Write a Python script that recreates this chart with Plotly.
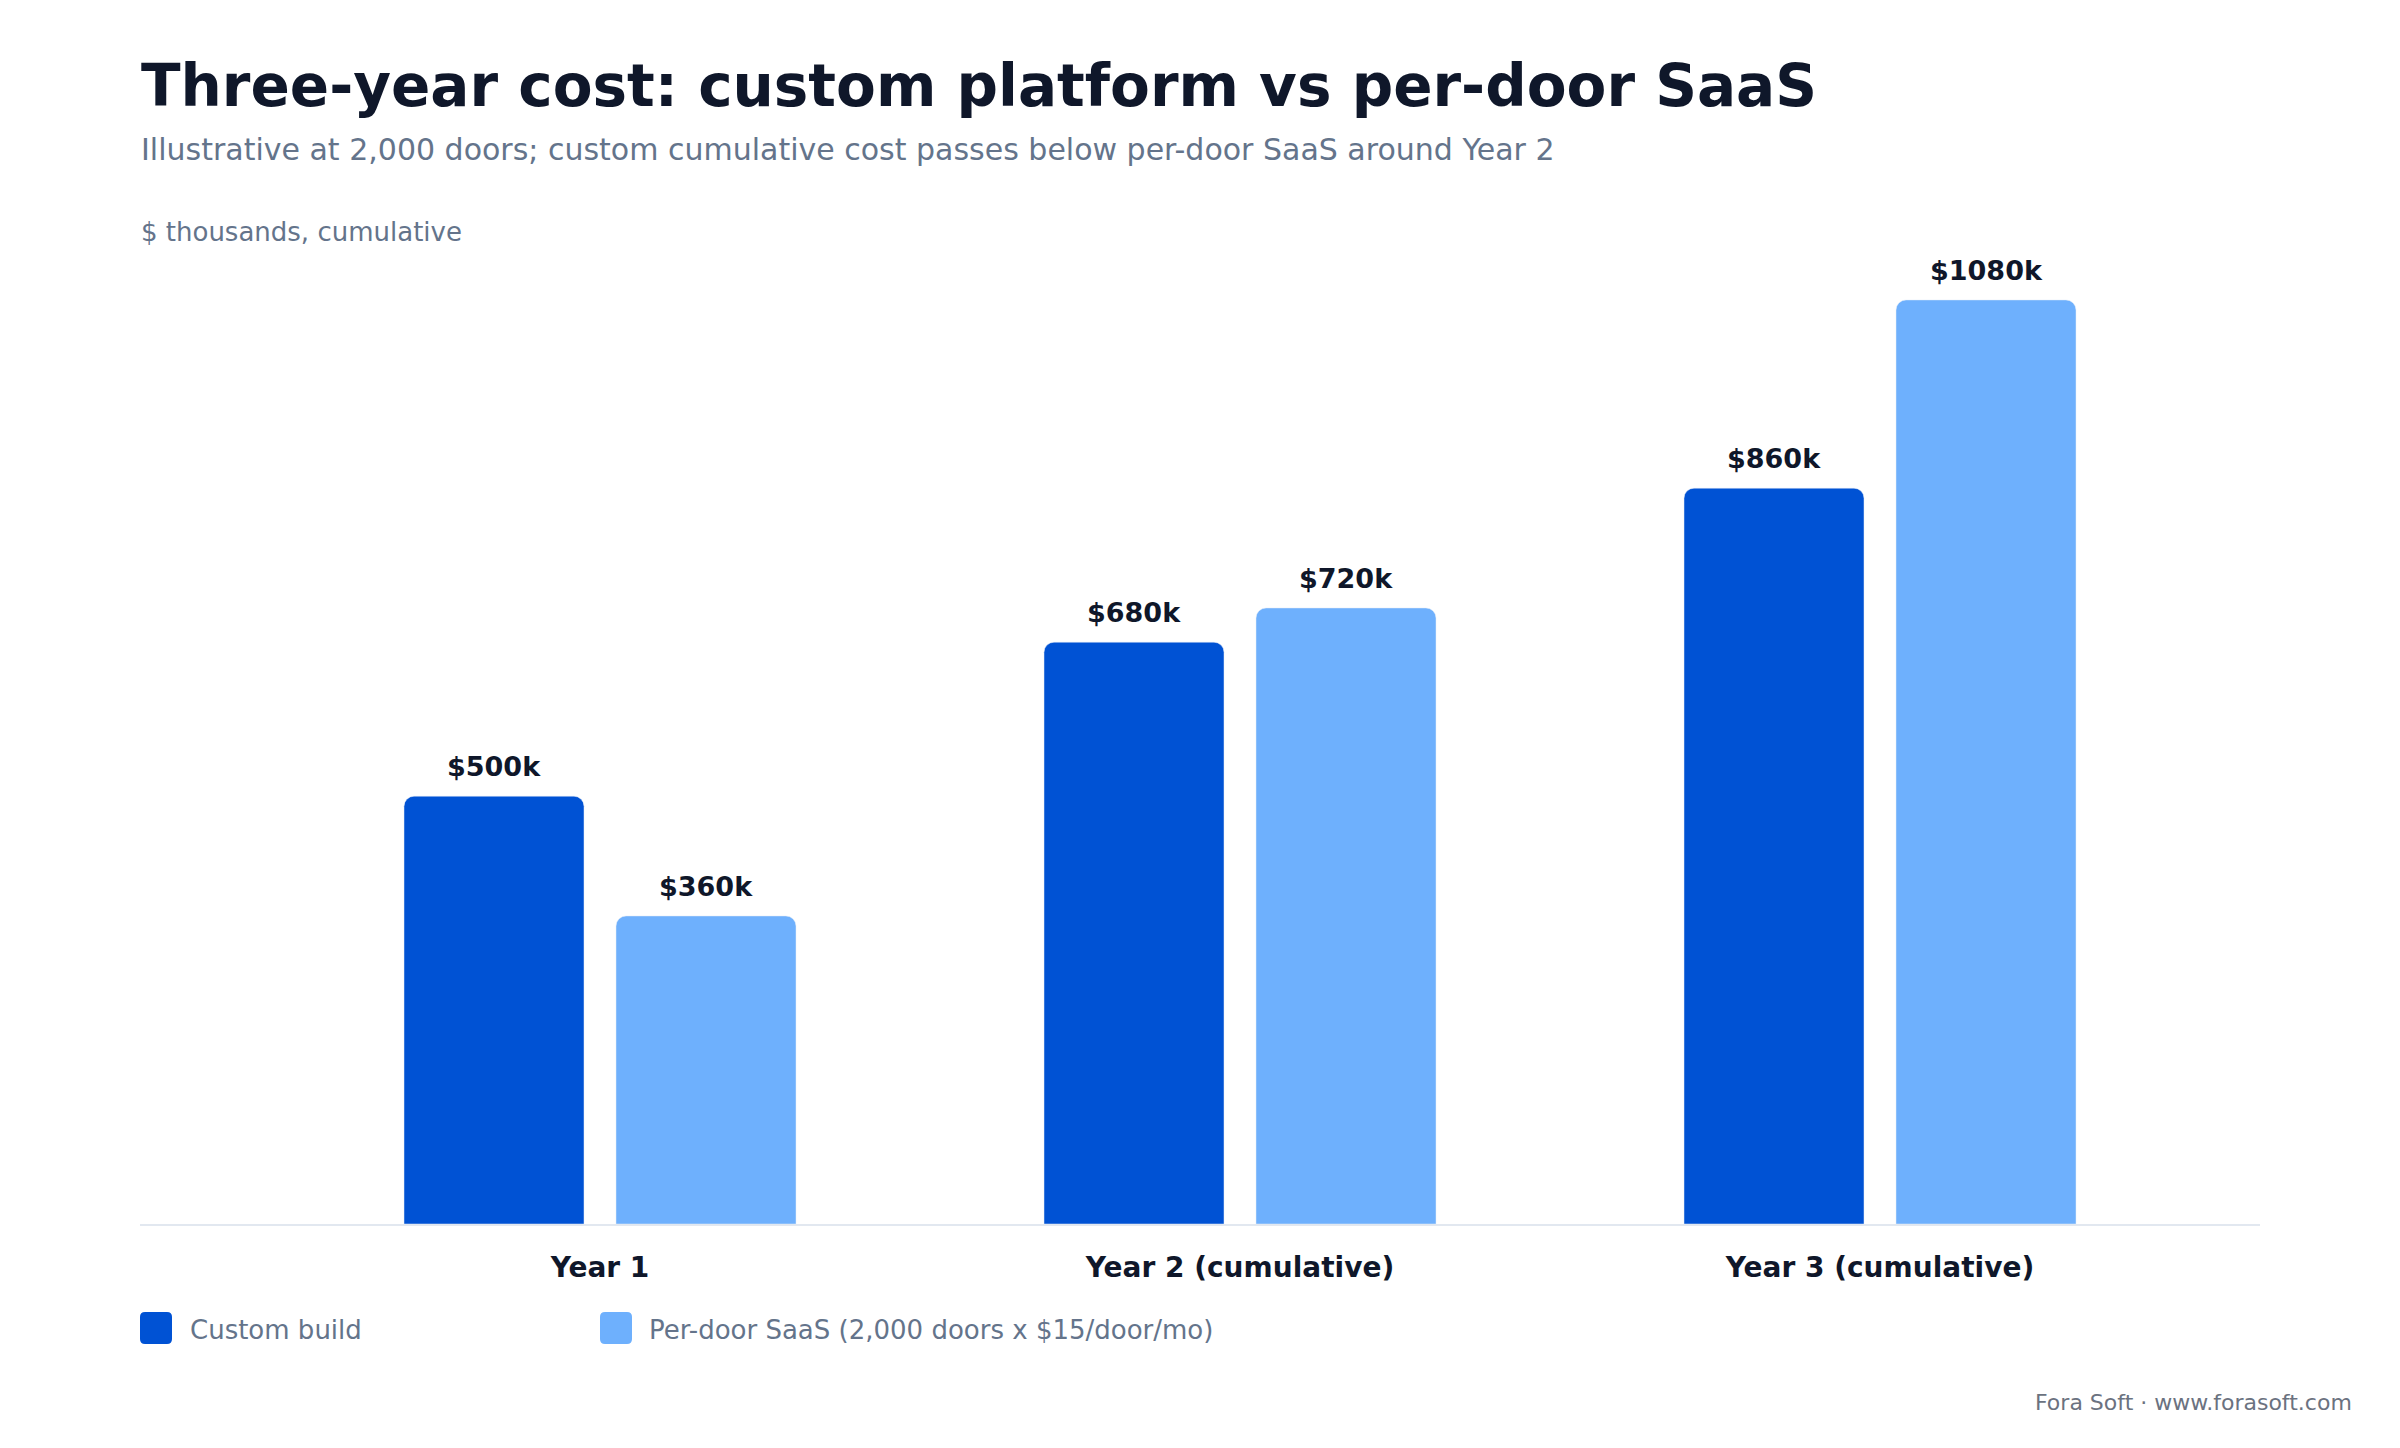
import plotly.graph_objects as go

# data
categories = ["Year 1", "Year 2 (cumulative)", "Year 3 (cumulative)"]
custom_cost = [500, 680, 860]
saas_cost = [360, 720, 1080]
series_names = ["Custom build", "Per-door SaaS (2,000 doors x $15/door/mo)"]

W, H = 2400, 1448
SHIFT = 8  # page body margin that the html adds
L, T = 140 - SHIFT, 250 - SHIFT
R = W - (2260 - SHIFT)
B = H - (1224 - SHIFT)
PW, PH = W - L - R, H - T - B

CUSTOM_COLOR = "#0052d4"
SAAS_COLOR = "#6eb0fd"
DARK = "#0f172a"
MUTED = "#64748b"
FONT = "DejaVu Sans"

BAR_W = 0.28125
OFF_CUSTOM = -0.30625
OFF_SAAS = 0.025


def py(y):
    # target pixel row -> paper y
    return (H - B - (y - SHIFT)) / PH


def px(x):
    return (x - SHIFT - L) / PW


fig = go.Figure()
fig.add_trace(go.Bar(
    x=categories, y=custom_cost, name=series_names[0],
    marker=dict(color=CUSTOM_COLOR, cornerradius=10),
    width=BAR_W, offset=OFF_CUSTOM, hoverinfo="skip",
))
fig.add_trace(go.Bar(
    x=categories, y=saas_cost, name=series_names[1],
    marker=dict(color=SAAS_COLOR, cornerradius=10),
    width=BAR_W, offset=OFF_SAAS, hoverinfo="skip",
))

annotations = []
# value labels above each bar
for i, (c, s) in enumerate(zip(custom_cost, saas_cost)):
    for val, off in ((c, OFF_CUSTOM), (s, OFF_SAAS)):
        annotations.append(dict(
            x=i + off + BAR_W / 2, y=val, xref="x", yref="y",
            text=f"<b>${val}k</b>", showarrow=False,
            yanchor="bottom", yshift=12,
            font=dict(family=FONT, size=27, color=DARK),
        ))

# title block
annotations += [
    dict(x=px(139), y=py(86), xref="paper", yref="paper", xanchor="left", yanchor="middle",
         text="<b>Three-year cost: custom platform vs per-door SaaS</b>", showarrow=False,
         font=dict(family=FONT, size=58, color=DARK)),
    dict(x=px(139), y=py(150), xref="paper", yref="paper", xanchor="left", yanchor="middle",
         text="Illustrative at 2,000 doors; custom cumulative cost passes below per-door SaaS around Year 2",
         showarrow=False, font=dict(family=FONT, size=30, color=MUTED)),
    dict(x=px(139), y=py(232), xref="paper", yref="paper", xanchor="left", yanchor="middle",
         text="$ thousands, cumulative", showarrow=False,
         font=dict(family=FONT, size=26, color=MUTED)),
    dict(x=px(2354), y=py(1402), xref="paper", yref="paper", xanchor="right", yanchor="middle",
         text="Fora Soft · www.forasoft.com", showarrow=False,
         font=dict(family=FONT, size=22, color="#6b7280")),
]

# custom legend: rounded swatches + labels
shapes = []
legend_items = [(140, 188, CUSTOM_COLOR, series_names[0]), (600, 647, SAAS_COLOR, series_names[1])]
r = 5
sw = 32
swatch_path = (f"M{r},-16 H{sw - r} Q{sw},-16 {sw},{-16 + r} V{16 - r} Q{sw},16 {sw - r},16 "
               f"H{r} Q0,16 0,{16 - r} V{-16 + r} Q0,-16 {r},-16 Z")
for sx, tx, col, name in legend_items:
    shapes.append(dict(
        type="path", xref="paper", yref="paper",
        xsizemode="pixel", ysizemode="pixel",
        xanchor=px(sx), yanchor=py(1328),
        path=swatch_path, fillcolor=col, line=dict(width=0),
    ))
    annotations.append(dict(
        x=px(tx), y=py(1330), xref="paper", yref="paper", xanchor="left", yanchor="middle",
        text=name, showarrow=False, font=dict(family=FONT, size=26, color=MUTED),
    ))

fig.update_layout(
    width=W, height=H,
    margin=dict(l=L, r=R, t=T, b=B, pad=0),
    paper_bgcolor="white", plot_bgcolor="white",
    barmode="overlay",
    showlegend=False,
    font=dict(family=FONT, color=DARK),
    annotations=annotations,
    shapes=shapes,
)
fig.update_xaxes(
    type="category", range=[-0.71875, 2.59375],
    tickvals=categories, ticktext=[f"<b>{c}</b>" for c in categories],
    tickfont=dict(family=FONT, size=28, color=DARK),
    showline=True, linecolor="#e2e8f0", linewidth=2,
    ticks="", ticklabelstandoff=17, showgrid=False, zeroline=False,
)
fig.update_yaxes(range=[0, PH / 0.8556], visible=False, showgrid=False, zeroline=False)

fig.write_html("out.html")
